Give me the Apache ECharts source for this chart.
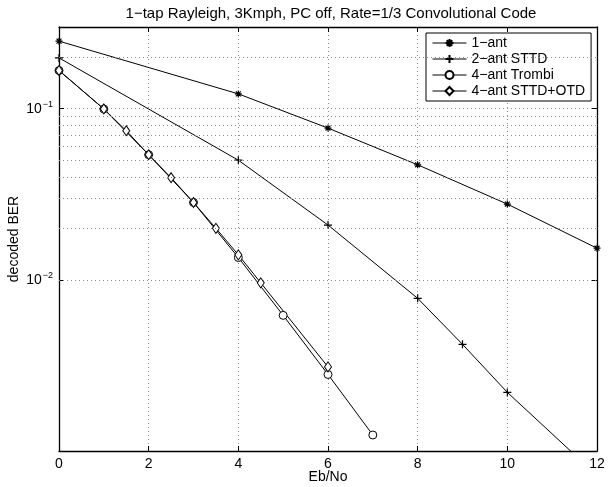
<!DOCTYPE html>
<html>
<head>
<meta charset="utf-8">
<script src="https://cdn.jsdelivr.net/npm/echarts@6/dist/echarts.min.js"></script>
<style>
  html, body { margin: 0; padding: 0; background: #fff; }
  #chart { width: 611px; height: 487px; }
</style>
</head>
<body>
<div id="chart"></div>
<script>
// values
var x1 = [0, 4, 6, 8, 10, 12];
var ber1 = [0.248, 0.122, 0.077, 0.047, 0.0277, 0.0153];

var x2 = [0, 4, 6, 8, 9, 10, 12];
var ber2 = [0.198, 0.050, 0.0209, 0.0078, 0.0042, 0.0022, 0.00072];

var x3 = [0, 1, 2, 3, 4, 5, 6, 7];
var ber3 = [0.167, 0.0996, 0.0538, 0.0283, 0.0135, 0.0062, 0.0028, 0.00124];

var x4 = [0, 1, 1.5, 2, 2.5, 3, 3.5, 4, 4.5, 6];
var ber4 = [0.167, 0.0996, 0.0743, 0.0538, 0.0395, 0.0283, 0.0200, 0.0140, 0.0096, 0.0031];

var names = ['1\u2212ant', '2\u2212ant STTD', '4\u2212ant Trombi', '4\u2212ant STTD+OTD'];
var xTicks = [0, 12, 2];
var minorGrid = [0.002, 0.003, 0.004, 0.005, 0.006, 0.007, 0.008, 0.009,
  0.02, 0.03, 0.04, 0.05, 0.06, 0.07, 0.08, 0.09, 0.2];

var FONT = 'Liberation Sans';

function pairs(xs, ys) {
  return xs.map(function (x, i) { return [x, ys[i]]; });
}

var chartDom = document.getElementById('chart');
var myChart = echarts.init(chartDom);

var star = 'path://M0,-5L0,5M-5,0L5,0M-3.5,-3.5L3.5,3.5M-3.5,3.5L3.5,-3.5';
var plus = 'path://M0,-5L0,5M-5,0L5,0';

var gridLine = { show: true, lineStyle: { color: '#8a8a8a', type: [1, 3], width: 1 } };

function lineSeries(name, data, symbol, size) {
  return {
    name: name,
    type: 'line',
    data: data,
    symbol: symbol,
    symbolSize: size,
    showAllSymbol: true,
    clip: true,
    lineStyle: { color: '#000', width: 1 },
    itemStyle: { color: '#fff', borderColor: '#000', borderWidth: 1 },
    emphasis: { disabled: true },
    z: 3
  };
}

var s1 = lineSeries(names[0], pairs(x1, ber1), star, 7);
s1.itemStyle = { color: 'none', borderColor: '#000', borderWidth: 1.2 };
var s2 = lineSeries(names[1], pairs(x2, ber2), plus, 8);
s2.itemStyle = { color: 'none', borderColor: '#000', borderWidth: 1.2 };
var s3 = lineSeries(names[2], pairs(x3, ber3), 'circle', 8);
var s4 = lineSeries(names[3], pairs(x4, ber4), 'diamond', [7, 10]);

// minor log grid lines
s1.markLine = {
  silent: true,
  symbol: 'none',
  label: { show: false },
  lineStyle: { color: '#8a8a8a', type: [1, 3], width: 1 },
  data: minorGrid.map(function (v) { return { yAxis: v }; })
};

var option = {
  animation: false,
  textStyle: { fontFamily: FONT },
  title: {
    text: '1\u2212tap Rayleigh, 3Kmph, PC off, Rate=1/3 Convolutional Code',
    left: 326,
    textAlign: 'center',
    top: 1,
    textStyle: { fontFamily: FONT, fontSize: 15, fontWeight: 'normal', color: '#000' }
  },
  legend: {
    orient: 'vertical',
    left: 426,
    top: 33,
    padding: [3, 6, 3, 6],
    itemGap: 2,
    itemWidth: 34,
    itemHeight: 10,
    backgroundColor: '#fff',
    borderColor: '#000',
    borderWidth: 1,
    lineStyle: { width: 1 },
    textStyle: { fontFamily: FONT, fontSize: 14, color: '#000', lineHeight: 14 },
    data: names
  },
  grid: { left: 59, right: 14, top: 27, bottom: 36, show: false, outerBoundsMode: 'none', containLabel: false },
  xAxis: [{
    type: 'value',
    min: xTicks[0],
    max: xTicks[1],
    interval: xTicks[2],
    name: 'Eb/No',
    nameLocation: 'middle',
    nameGap: 26,
    nameMoveOverlap: false,
    nameTextStyle: { fontFamily: FONT, fontSize: 14, color: '#000', verticalAlign: 'middle' },
    axisLine: { show: true, onZero: false, lineStyle: { color: '#000', width: 1.3 } },
    axisTick: { show: true, inside: true, length: 5, lineStyle: { color: '#000' } },
    axisLabel: { fontFamily: FONT, fontSize: 14, color: '#000', margin: 6 },
    splitLine: gridLine
  }, {
    type: 'value',
    position: 'top',
    min: xTicks[0],
    max: xTicks[1],
    interval: xTicks[2],
    axisLine: { show: true, onZero: false, lineStyle: { color: '#000', width: 1.3 } },
    axisTick: { show: true, inside: true, length: 5, lineStyle: { color: '#000' } },
    axisLabel: { show: false },
    splitLine: { show: false }
  }],
  yAxis: [{
    type: 'log',
    logBase: 10,
    min: 0.001,
    max: 0.3,
    name: 'decoded BER',
    nameLocation: 'middle',
    nameGap: 45,
    nameMoveOverlap: false,
    nameTextStyle: { fontFamily: FONT, fontSize: 14, color: '#000', verticalAlign: 'middle' },
    axisLine: { show: true, onZero: false, lineStyle: { color: '#000', width: 1.3 } },
    axisTick: { show: true, inside: true, length: 5, lineStyle: { color: '#000' } },
    axisLabel: {
      showMinLabel: false,
      showMaxLabel: false,
      margin: 6,
      color: '#000',
      formatter: function (v) {
        var e = Math.round(Math.log10(v));
        if (Math.abs(Math.log10(v) - e) > 1e-6) return '';
        return '{b|10}{e|' + (e < 0 ? '\u2212' + (-e) : e) + '}';
      },
      rich: {
        b: { fontFamily: FONT, fontSize: 14, color: '#000' },
        e: { fontFamily: FONT, fontSize: 9, color: '#000', verticalAlign: 'bottom', padding: [0, 0, 9, 1] }
      }
    },
    splitLine: gridLine
  }, {
    type: 'log',
    logBase: 10,
    min: 0.001,
    max: 0.3,
    position: 'right',
    axisLine: { show: true, onZero: false, lineStyle: { color: '#000', width: 1.3 } },
    axisTick: { show: true, inside: true, length: 5, lineStyle: { color: '#000' } },
    axisLabel: { show: false },
    splitLine: { show: false }
  }],
  series: [s1, s2, s3, s4]
};

option && myChart.setOption(option);
</script>
</body>
</html>
